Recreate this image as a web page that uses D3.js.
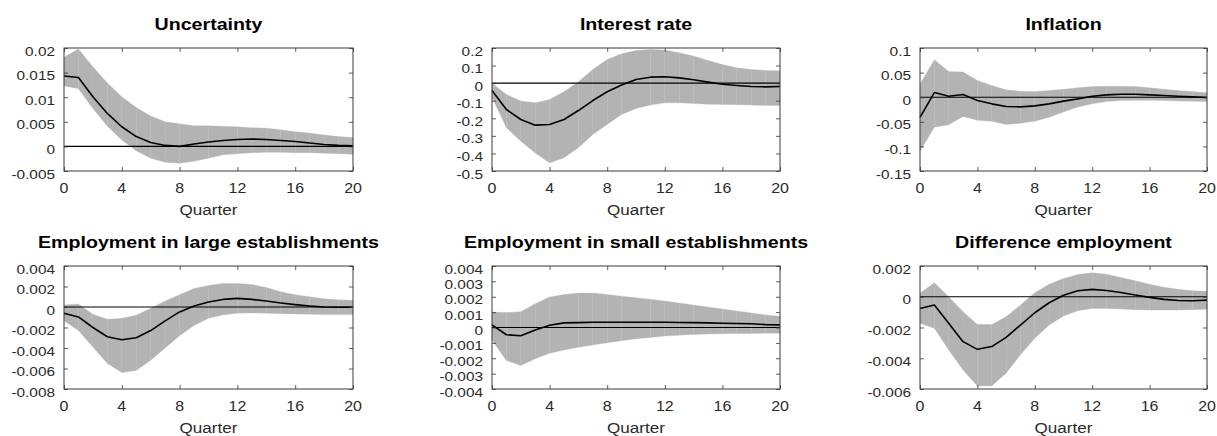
<!DOCTYPE html>
<html><head><meta charset="utf-8">
<script src="https://cdn.jsdelivr.net/npm/d3@7"></script>
<style>
html,body{margin:0;padding:0;background:#fff;}
svg{display:block;}
text{font-family:"Liberation Sans",Arial,Helvetica,sans-serif;}
</style></head>
<body>
<svg id="chart" width="1217" height="436"></svg>
<script>
const quarters = d3.range(0, 21);
const xTicks = [0, 4, 8, 12, 16, 20];

const titles = ["Uncertainty", "Interest rate", "Inflation",
  "Employment in large establishments", "Employment in small establishments", "Difference employment"];

const yTicks1 = [0.02, 0.015, 0.01, 0.005, 0, -0.005];
const yLabels1 = ["0.02", "0.015", "0.01", "0.005", "0", "-0.005"];
const yTicks2 = [0.2, 0.1, 0, -0.1, -0.2, -0.3, -0.4, -0.5];
const yLabels2 = ["0.2", "0.1", "0", "-0.1", "-0.2", "-0.3", "-0.4", "-0.5"];
const yTicks3 = [0.1, 0.05, 0, -0.05, -0.1, -0.15];
const yLabels3 = ["0.1", "0.05", "0", "-0.05", "-0.1", "-0.15"];
const yTicks4 = [0.004, 0.002, 0, -0.002, -0.004, -0.006, -0.008];
const yLabels4 = ["0.004", "0.002", "0", "-0.002", "-0.004", "-0.006", "-0.008"];
const yTicks5 = [0.004, 0.003, 0.002, 0.001, 0, -0.001, -0.002, -0.003, -0.004];
const yLabels5 = ["0.004", "0.003", "0.002", "0.001", "0", "-0.001", "-0.002", "-0.003", "-0.004"];
const yTicks6 = [0.002, 0, -0.002, -0.004, -0.006];
const yLabels6 = ["0.002", "0", "-0.002", "-0.004", "-0.006"];

// Panel 1: Uncertainty
const med1 = [0.0143, 0.0140, 0.0101, 0.0067, 0.0040, 0.0020, 0.0008, 0.0002, 0.0000, 0.0005, 0.0009, 0.0012, 0.0014, 0.0015, 0.0014, 0.0012, 0.0010, 0.0007, 0.0004, 0.0002, 0.0001];
const up1  = [0.0181, 0.0198, 0.0162, 0.0129, 0.0101, 0.0079, 0.0062, 0.0050, 0.0046, 0.0042, 0.0042, 0.0041, 0.0040, 0.0038, 0.0037, 0.0034, 0.0030, 0.0027, 0.0023, 0.0020, 0.0018];
const lo1  = [0.0123, 0.0117, 0.0077, 0.0041, 0.0013, -0.0009, -0.0024, -0.0032, -0.0034, -0.0030, -0.0024, -0.0017, -0.0015, -0.0013, -0.0012, -0.0012, -0.0013, -0.0013, -0.0014, -0.0015, -0.0016];
// Panel 2: Interest rate
const med2 = [-0.042, -0.150, -0.207, -0.239, -0.235, -0.207, -0.156, -0.099, -0.049, -0.011, 0.021, 0.034, 0.036, 0.030, 0.019, 0.006, -0.006, -0.013, -0.019, -0.021, -0.019];
const up2  = [0.000, -0.065, -0.102, -0.112, -0.093, -0.049, 0.008, 0.078, 0.135, 0.167, 0.186, 0.192, 0.188, 0.173, 0.154, 0.129, 0.106, 0.087, 0.078, 0.072, 0.070];
const lo2  = [-0.080, -0.254, -0.330, -0.397, -0.454, -0.425, -0.368, -0.292, -0.235, -0.178, -0.144, -0.125, -0.112, -0.112, -0.116, -0.120, -0.121, -0.123, -0.125, -0.127, -0.127];
// Panel 3: Inflation
const med3 = [-0.041, 0.0095, 0.002, 0.0054, -0.0068, -0.0135, -0.019, -0.0196, -0.0176, -0.0135, -0.008, -0.0034, 0.002, 0.0047, 0.006, 0.006, 0.0047, 0.0034, 0.002, 0.0007, -0.0007];
const up3  = [0.027, 0.076, 0.052, 0.051, 0.034, 0.024, 0.015, 0.012, 0.0115, 0.0135, 0.016, 0.019, 0.0217, 0.0224, 0.0224, 0.0217, 0.019, 0.016, 0.0135, 0.0115, 0.009];
const lo3  = [-0.110, -0.061, -0.056, -0.039, -0.047, -0.049, -0.0556, -0.053, -0.049, -0.041, -0.030, -0.020, -0.0135, -0.0088, -0.0068, -0.006, -0.006, -0.0068, -0.0075, -0.008, -0.0088];
// Panel 4: Employment in large establishments
const med4 = [-0.00061, -0.00097, -0.0020, -0.0029, -0.0032, -0.0030, -0.0023, -0.00135, -0.00048, 0.0001, 0.00048, 0.00074, 0.00084, 0.00074, 0.00058, 0.00039, 0.00023, 0.0001, 0.0, -0.00003, -0.00003];
const up4  = [0.0002, 0.0003, -0.0007, -0.0012, -0.0011, -0.0008, -0.00013, 0.00058, 0.0012, 0.0018, 0.0021, 0.0023, 0.0023, 0.0022, 0.0019, 0.0015, 0.0012, 0.0010, 0.0008, 0.0007, 0.00065];
const lo4  = [-0.00135, -0.0023, -0.0039, -0.0055, -0.0064, -0.0062, -0.0052, -0.0040, -0.0028, -0.0018, -0.0011, -0.00077, -0.0006, -0.00058, -0.0006, -0.00065, -0.00068, -0.0007, -0.00074, -0.00074, -0.00074];
// Panel 5: Employment in small establishments
const med5 = [0.00017, -0.00047, -0.00054, -0.00017, 0.00015, 0.0003, 0.00032, 0.00034, 0.00034, 0.00034, 0.00034, 0.00034, 0.00034, 0.00033, 0.00032, 0.0003, 0.00028, 0.00026, 0.00024, 0.00019, 0.00017];
const up5  = [0.00101, 0.00097, 0.00103, 0.00155, 0.00198, 0.00215, 0.00224, 0.00224, 0.00215, 0.00204, 0.00194, 0.00183, 0.00172, 0.00159, 0.00146, 0.00133, 0.0012, 0.00108, 0.00095, 0.00082, 0.00073];
const lo5  = [-0.00082, -0.00215, -0.00247, -0.00204, -0.00168, -0.00146, -0.00129, -0.00114, -0.00099, -0.00086, -0.00073, -0.00065, -0.00056, -0.0005, -0.00045, -0.00043, -0.00041, -0.00039, -0.00039, -0.00037, -0.00037];
// Panel 6: Difference employment
const med6 = [-0.00076, -0.00054, -0.00173, -0.00292, -0.00342, -0.00324, -0.00264, -0.00184, -0.00104, -0.00039, 0.0001, 0.00039, 0.00048, 0.00041, 0.00028, 0.00011, -0.00004, -0.00017, -0.00024, -0.00026, -0.00022];
const up6  = [0.00022, 0.00091, 0.0, -0.00097, -0.0018, -0.0018, -0.0013, -0.00054, 0.00026, 0.00082, 0.00119, 0.00145, 0.00156, 0.00147, 0.00125, 0.00104, 0.00082, 0.00061, 0.00048, 0.00039, 0.00035];
const lo6  = [-0.00173, -0.00205, -0.00346, -0.00476, -0.0058, -0.0058, -0.00497, -0.00378, -0.0027, -0.00184, -0.00125, -0.00091, -0.00076, -0.00076, -0.0008, -0.00084, -0.00086, -0.00086, -0.00086, -0.00084, -0.00082];

const panels = [
  {title: titles[0], med: med1, up: up1, lo: lo1, ticks: yTicks1, labels: yLabels1},
  {title: titles[1], med: med2, up: up2, lo: lo2, ticks: yTicks2, labels: yLabels2},
  {title: titles[2], med: med3, up: up3, lo: lo3, ticks: yTicks3, labels: yLabels3},
  {title: titles[3], med: med4, up: up4, lo: lo4, ticks: yTicks4, labels: yLabels4},
  {title: titles[4], med: med5, up: up5, lo: lo5, ticks: yTicks5, labels: yLabels5},
  {title: titles[5], med: med6, up: up6, lo: lo6, ticks: yTicks6, labels: yLabels6}
];

const colsX = [[64, 353], [492, 780], [920, 1207]];
const rowsY = [[48, 171], [266, 389]];
const SX = 1.14; // horizontal stretch of text in the reference
const svg = d3.select("#chart");

panels.forEach((p, i) => {
  const [x0, x1] = colsX[i % 3];
  const [y0, y1] = rowsY[Math.floor(i / 3)];
  const x = d3.scaleLinear().domain([0, 20]).range([x0, x1]);
  const y = d3.scaleLinear().domain([d3.min(p.ticks), d3.max(p.ticks)]).range([y1, y0]);
  const g = svg.append("g");

  // confidence band as per-quarter patches (gives the faint seams)
  const area = d3.area().x(d => x(d.q)).y0(d => y(d.lo)).y1(d => y(d.up));
  for (let k = 0; k < quarters.length - 1; k++) {
    const seg = [k, k + 1].map(q => ({q, lo: p.lo[q], up: p.up[q]}));
    g.append("path").attr("d", area(seg)).attr("fill", "#b3b3b3")
      .attr("stroke", "#b8b8b8").attr("stroke-width", 0.3);
  }

  // zero line
  g.append("line").attr("x1", x(0)).attr("x2", x(20)).attr("y1", y(0)).attr("y2", y(0))
    .attr("stroke", "#000").attr("stroke-width", 1.1);

  // median
  const line = d3.line().x((d, k) => x(quarters[k])).y(d => y(d));
  g.append("path").attr("d", line(p.med)).attr("fill", "none")
    .attr("stroke", "#000").attr("stroke-width", 1.6).attr("stroke-linejoin", "round");

  // axes with inward ticks on all four sides
  const tl = 4;
  const axStyle = sel => {
    sel.select(".domain").remove();
    sel.selectAll(".tick line").attr("stroke", "#333").attr("stroke-width", 0.8);
    sel.selectAll(".tick text").remove();
  };
  g.append("g").attr("transform", `translate(0,${y1})`)
    .call(d3.axisBottom(x).tickValues(xTicks).tickSize(-tl)).call(axStyle);
  g.append("g").attr("transform", `translate(0,${y0})`)
    .call(d3.axisTop(x).tickValues(xTicks).tickSize(-tl)).call(axStyle);
  g.append("g").attr("transform", `translate(${x0},0)`)
    .call(d3.axisLeft(y).tickValues(p.ticks).tickSize(-tl)).call(axStyle);
  g.append("g").attr("transform", `translate(${x1},0)`)
    .call(d3.axisRight(y).tickValues(p.ticks).tickSize(-tl)).call(axStyle);

  // box
  g.append("rect").attr("x", x0).attr("y", y0).attr("width", x1 - x0).attr("height", y1 - y0)
    .attr("fill", "none").attr("stroke", "#3a3a3a").attr("stroke-width", 1);

  // y tick labels
  p.ticks.forEach((t, k) => {
    g.append("text").attr("transform", `translate(${x0 - 9},${y(t) + 7.5}) scale(${SX},1)`)
      .attr("text-anchor", "end").attr("font-size", 13.5).attr("fill", "#2a2a2a").text(p.labels[k]);
  });
  // x tick labels
  xTicks.forEach(t => {
    g.append("text").attr("transform", `translate(${x(t)},${y1 + 22}) scale(${SX},1)`)
      .attr("text-anchor", "middle").attr("font-size", 14).attr("fill", "#2a2a2a").text(String(t));
  });
  // x axis title
  g.append("text").attr("transform", `translate(${(x0 + x1) / 2},${y1 + 44}) scale(${SX},1)`)
    .attr("text-anchor", "middle").attr("font-size", 15).attr("fill", "#2a2a2a").text("Quarter");
  // panel title
  g.append("text").attr("transform", `translate(${(x0 + x1) / 2},${y0 - 18}) scale(${SX},1)`)
    .attr("text-anchor", "middle").attr("font-size", 17.2).attr("font-weight", "bold")
    .attr("fill", "#000").text(p.title);
});
</script>
</body></html>
